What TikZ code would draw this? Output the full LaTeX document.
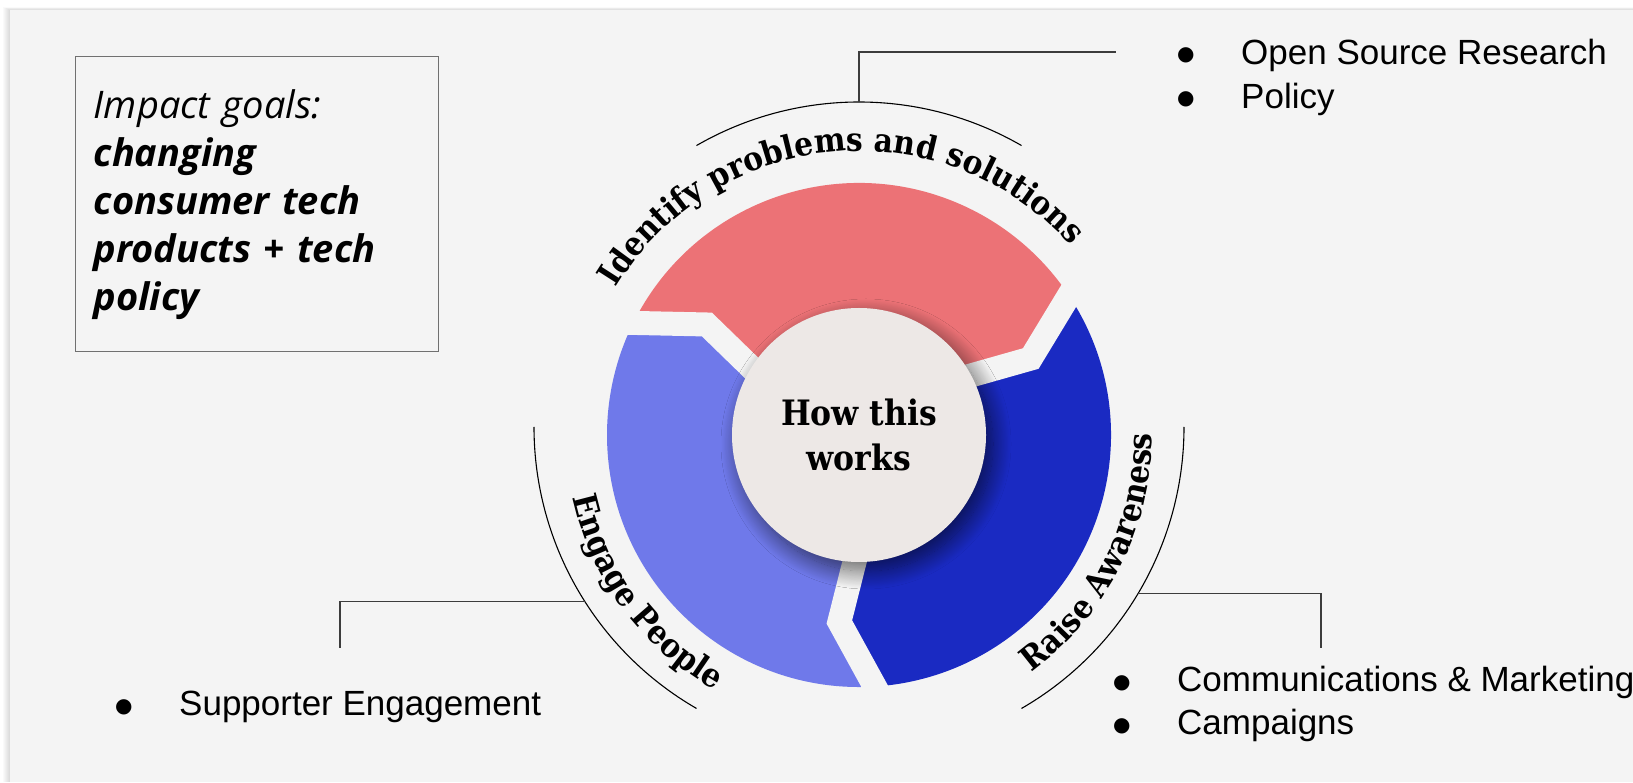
\documentclass[tikz,border=0pt]{standalone}
\usepackage{fontspec}
\usetikzlibrary{decorations.text,shadows.blur,calc}

\newfontfamily\goalfont{Open Sans}
\newfontfamily\listfont{Liberation Sans}
\newfontfamily\dotfont{DejaVu Sans}
\newfontfamily\slabfont{DejaVuSerifCondensed-Bold.ttf}

\definecolor{slideGray}{HTML}{F4F4F4}
\definecolor{segRed}{HTML}{EC7276}
\definecolor{segLight}{HTML}{6F79EA}
\definecolor{segDark}{HTML}{1A2AC2}
\definecolor{hubFill}{HTML}{EDE8E6}
\definecolor{boxGray}{HTML}{707070}
\definecolor{lineGray}{HTML}{3C3C3C}

\newcommand{\listdot}{\makebox[64pt][l]{\raisebox{3.5pt}{\dotfont\fontsize{20}{20}\selectfont ●}}}

\begin{document}
\begin{tikzpicture}[x=1pt,y=1pt,
        goalBox/.style = {draw=boxGray,line width=1.3pt,anchor=north west,
            minimum width=363pt,minimum height=295pt,text width=327pt,inner xsep=18pt,
            align=left,font=\goalfont\fontsize{38}{48}\selectfont},
        itemText/.style = {anchor=base west,inner sep=0pt,font=\listfont\fontsize{35}{42}\selectfont},
        hubNode/.style = {shape=circle,fill=hubFill,minimum size=254pt,inner sep=0pt,align=center,
            font=\slabfont\fontsize{35}{45}\selectfont,
            blur shadow={shadow xshift=7pt,shadow yshift=-9pt,shadow blur radius=18pt,
                shadow blur steps=24,shadow opacity=60}},
        gapLine/.style = {draw=slideGray,line width=24pt,line join=miter},
        labelArc/.style = {draw=black,line width=1.1pt},
        leaderLine/.style = {draw=lineGray,line width=1.2pt},
        ringLabel/.style = {decorate,decoration={text along path,text align=center,
            text={|\slabfont\fontsize{33}{33}\selectfont|#1}}}
        ]
        \useasboundingbox (0,0) rectangle (1633,782);

        % slide with its soft edge
        \fill[white] (0,0) rectangle (1633,782);
        \foreach \s in {1,...,7}
            \fill[black,opacity=0.02] ({10-\s},0) rectangle (1633,{772+0.4*\s});
        \fill[slideGray] (10,0) rectangle (1633,772);

        \coordinate (ringC) at (859,347);
        \coordinate (arcC) at (859,355);

        % the three arrow segments
        \begin{scope}[shift={(ringC)}]
            \foreach \a/\b/\col in {155/35/segRed, 35/-85/segDark, -85/-205/segLight}
                \fill[\col] (\a:252) arc[start angle=\a,end angle=\b,radius=252]
                    -- ({\b-11}:188) -- ({\b-3}:100)
                    arc[start angle=\b-3,end angle=\a-3,radius=100]
                    -- ({\a-11}:188) -- cycle;
            \foreach \a in {155,35,-85}
                \draw[gapLine] (\a:266) -- ({\a-11}:188) -- ({\a-3}:96);

            \path[ringLabel={Identify problems and solutions}]
                (175.3:284) arc[start angle=175.3,end angle=15.3,radius=284];
            \path[ringLabel={Engage People}]
                (136.4:293) arc[start angle=136.4,end angle=296.4,radius=293];
            \path[ringLabel={Raise Awareness}]
                (-106.8:293) arc[start angle=-106.8,end angle=53.2,radius=293];
        \end{scope}

        \node[hubNode] (hub) at (ringC) {How this\\works};

        % outer arcs and leaders
        \begin{scope}[shift={(arcC)}]
            \draw[labelArc] (60:325) arc[start angle=60,end angle=120,radius=325];
            \draw[labelArc] (-60:325) arc[start angle=-60,end angle=0,radius=325];
            \draw[labelArc] (180:325) arc[start angle=180,end angle=240,radius=325];
            \coordinate (identifyTick) at (90:325);
            \coordinate (raiseTick) at (-30.9:325);
            \coordinate (engageTick) at (212.4:325);
        \end{scope}
        \coordinate (identifyEnd) at (1116,730);
        \coordinate (raiseEnd) at (1321,134);
        \coordinate (engageEnd) at (340,134);
        \draw[leaderLine] (identifyTick) |- (identifyEnd);
        \draw[leaderLine] (raiseTick) -| (raiseEnd);
        \draw[leaderLine] (engageTick) -| (engageEnd);

        % what each step covers
        \node[itemText] (research) at (1177,717.5) {\listdot Open Source Research};
        \node[itemText] (policy) at (1177,673.5) {\listdot Policy};
        \node[itemText] (comms) at (1113,90.5) {\listdot Communications \& Marketing};
        \node[itemText] (campaigns) at (1113,47.5) {\listdot Campaigns};
        \node[itemText] (support) at (115,66.5) {\listdot Supporter Engagement};

        \node[goalBox] (goals) at (75,726) {\textit{Impact goals:}\\
            \textbf{\textit{changing}}\\
            \textbf{\textit{consumer tech}}\\
            \textbf{\textit{products + tech}}\\
            \textbf{\textit{policy}}};
    \end{tikzpicture}
\end{document}
